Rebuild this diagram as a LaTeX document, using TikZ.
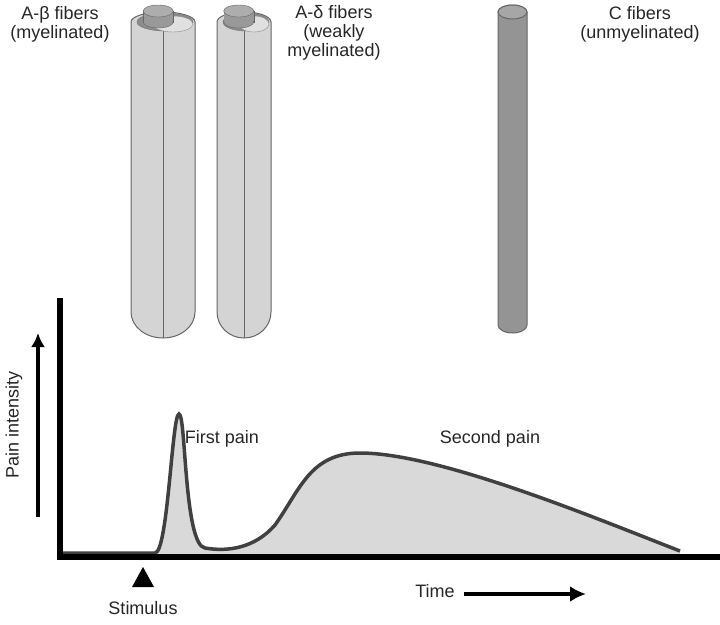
\documentclass[tikz,border=0pt]{standalone}
\usepackage{fontspec}
\setmainfont{Liberation Sans}
\usetikzlibrary{arrows.meta}
\begin{document}
\begin{tikzpicture}[x=1pt,y=-1pt,
  lbl/.style={font=\fontsize{18}{19}\selectfont, align=center, text=black!85},
  fib/.style={fill=black!17, draw=black!60, line width=1pt}]
\useasboundingbox (0,0) rectangle (720,624);
% myelinated fibers
\foreach \cx/\w/\n in {163/32/a, 244/27/b}{
  \path[fib] (\cx-\w,22) -- (\cx-\w,312) arc[start angle=180,end angle=0,x radius=\w,y radius=26] -- (\cx+\w,22) arc[start angle=360,end angle=180,x radius=\w,y radius=10] -- cycle;
  \draw[black!60, line width=1pt] (\cx,31) -- (\cx,338);
  \path[fill=black!45, draw=black!55] (\cx+2,22) ellipse[x radius=\w-4, y radius=9];
  \path[fill=black!12, draw=black!45] (\cx+10,24) ellipse[x radius=\w-12, y radius=8];
  \path[fill=black!40, draw=black!60] (\cx-23+\w*0.1,22) rectangle (\cx+7+\w*0.1,11);
  \path[fill=black!40, draw=black!60] (\cx-8+\w*0.1,22) ellipse[x radius=15, y radius=6];
  \path[fill=black!40] (\cx-22.5+\w*0.1,21) rectangle (\cx+6.5+\w*0.1,11);
  \path[fill=black!32, draw=black!60] (\cx-8+\w*0.1,11) ellipse[x radius=15, y radius=6];
}
% C fiber
\path[fib, fill=black!42] (498,12) -- (498,325) arc[start angle=180,end angle=0,x radius=14.5,y radius=8] -- (527,12) arc[start angle=360,end angle=180,x radius=14.5,y radius=7] -- cycle;
\path[fill=black!35, draw=black!60, line width=1pt] (512.5,12) ellipse[x radius=14.5, y radius=7];
% labels
\node[lbl] (l1) at (60,24) {A-β fibers\\(myelinated)};
\node[lbl] (l2) at (334,33) {A-δ fibers\\(weakly\\myelinated)};
\node[lbl] (l3) at (640,24) {C fibers\\(unmyelinated)};
% curve
\path[fill=black!15] (60,553) -- (155,553) .. controls (168,553) and (172,414) .. (179,414)
  .. controls (186,414) and (184,545) .. (205,548) .. controls (228,552) and (255,548) .. (275,525)
  .. controls (300,490) and (310,453) .. (360,453) .. controls (440,453) and (600,520) .. (680,551) -- (680,557) -- (60,557) -- cycle;
\draw[black!75, line width=3.5pt] (60,553) -- (155,553) .. controls (168,553) and (172,414) .. (179,414)
  .. controls (186,414) and (184,545) .. (205,548) .. controls (228,552) and (255,548) .. (275,525)
  .. controls (300,490) and (310,453) .. (360,453) .. controls (440,453) and (600,520) .. (680,551);
% axes
\coordinate (o) at (60,557);
\coordinate (yt) at (60,298);
\coordinate (xe) at (720,557);
\draw[line width=6pt] (yt) -- (o) -- (xe);
\coordinate (pa) at (38,517);
\coordinate (pb) at (38,333);
\draw[line width=4pt, -{Latex[length=14pt,width=14pt]}] (pa) -- (pb);
\node[lbl, rotate=90] (pi) at (14,425) {Pain intensity};
\node[lbl] (fp) at (222,439) {First pain};
\node[lbl] (sp) at (490,439) {Second pain};
% stimulus
\path[fill=black] (132,587) -- (143,567) -- (154,587) -- cycle;
\node[lbl] (st) at (143,608) {Stimulus};
\node[lbl] (tm) at (435,591) {Time};
\coordinate (ta) at (464,594);
\coordinate (tb) at (586,594);
\draw[line width=4pt, -{Latex[length=16pt,width=16pt]}] (ta) -- (tb);
\end{tikzpicture}
\end{document}
